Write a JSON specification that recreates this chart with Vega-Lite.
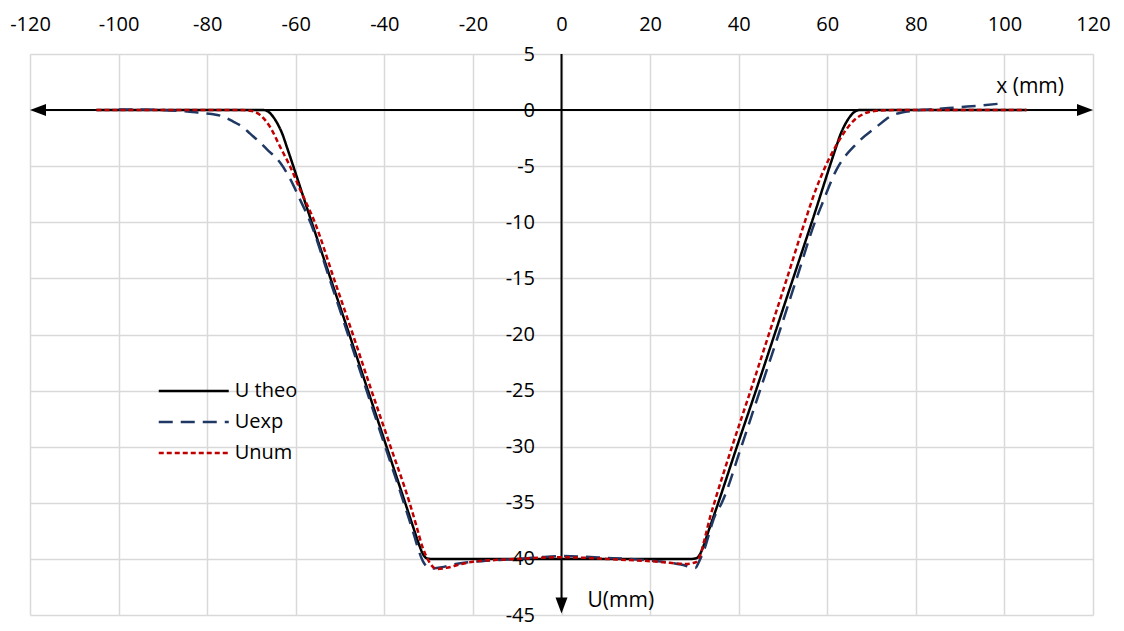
{
  "$schema": "https://vega.github.io/schema/vega-lite/v6.json",
  "width": 1063,
  "height": 561,
  "autosize": {"type": "none"},
  "padding": {"left": 30, "top": 54, "right": 31, "bottom": 16},
  "background": "white",
  "config": {
    "view": {"stroke": null},
    "font": "Open Sans",
    "axis": {
      "labelFont": "Open Sans",
      "labelFontSize": 20,
      "labelColor": "#000000",
      "domain": false,
      "ticks": false,
      "gridColor": "#d9d9d9",
      "gridWidth": 1.5,
      "title": null,
      "labelExpr": "replace(datum.label, '\u2212', '-')"
    },
    "legend": {
      "labelFont": "Open Sans",
      "labelFontSize": 20,
      "labelColor": "#000000"
    }
  },
  "datasets": {
    "curves": [
      {"s": "U theo", "x": -105, "y": 0},
      {"s": "U theo", "x": -67.2, "y": 0},
      {"s": "U theo", "x": -66, "y": -0.2},
      {"s": "U theo", "x": -65, "y": -0.65},
      {"s": "U theo", "x": -64, "y": -1.3},
      {"s": "U theo", "x": -63, "y": -2.15},
      {"s": "U theo", "x": -62, "y": -3.3},
      {"s": "U theo", "x": -56.4, "y": -10},
      {"s": "U theo", "x": -47.9, "y": -20},
      {"s": "U theo", "x": -39.5, "y": -30},
      {"s": "U theo", "x": -35.3, "y": -35},
      {"s": "U theo", "x": -33, "y": -37.75},
      {"s": "U theo", "x": -32.5, "y": -38.35},
      {"s": "U theo", "x": -32, "y": -38.9},
      {"s": "U theo", "x": -31.5, "y": -39.4},
      {"s": "U theo", "x": -31, "y": -39.75},
      {"s": "U theo", "x": -30.5, "y": -39.93},
      {"s": "U theo", "x": -29.5, "y": -40},
      {"s": "U theo", "x": 29.5, "y": -40},
      {"s": "U theo", "x": 30.5, "y": -39.93},
      {"s": "U theo", "x": 31, "y": -39.75},
      {"s": "U theo", "x": 31.5, "y": -39.4},
      {"s": "U theo", "x": 32, "y": -38.9},
      {"s": "U theo", "x": 32.5, "y": -38.35},
      {"s": "U theo", "x": 33, "y": -37.75},
      {"s": "U theo", "x": 35.4, "y": -35},
      {"s": "U theo", "x": 39.6, "y": -30},
      {"s": "U theo", "x": 43.9, "y": -25},
      {"s": "U theo", "x": 48.1, "y": -20},
      {"s": "U theo", "x": 52.3, "y": -15},
      {"s": "U theo", "x": 56.5, "y": -10},
      {"s": "U theo", "x": 62, "y": -3.3},
      {"s": "U theo", "x": 63, "y": -2.15},
      {"s": "U theo", "x": 64, "y": -1.3},
      {"s": "U theo", "x": 65, "y": -0.65},
      {"s": "U theo", "x": 66, "y": -0.2},
      {"s": "U theo", "x": 67.2, "y": 0},
      {"s": "U theo", "x": 105, "y": 0},

      {"s": "Uexp", "x": -100, "y": 0.05},
      {"s": "Uexp", "x": -95, "y": 0.05},
      {"s": "Uexp", "x": -90, "y": 0},
      {"s": "Uexp", "x": -85, "y": -0.1},
      {"s": "Uexp", "x": -81.6, "y": -0.24},
      {"s": "Uexp", "x": -79, "y": -0.35},
      {"s": "Uexp", "x": -77, "y": -0.5},
      {"s": "Uexp", "x": -74.2, "y": -1.0},
      {"s": "Uexp", "x": -72, "y": -1.5},
      {"s": "Uexp", "x": -70.3, "y": -2.1},
      {"s": "Uexp", "x": -68.3, "y": -2.8},
      {"s": "Uexp", "x": -66.5, "y": -3.5},
      {"s": "Uexp", "x": -63.5, "y": -4.7},
      {"s": "Uexp", "x": -61.3, "y": -6.1},
      {"s": "Uexp", "x": -59, "y": -8.0},
      {"s": "Uexp", "x": -56.7, "y": -10},
      {"s": "Uexp", "x": -52.4, "y": -15},
      {"s": "Uexp", "x": -48.2, "y": -20},
      {"s": "Uexp", "x": -44, "y": -25},
      {"s": "Uexp", "x": -39.8, "y": -30},
      {"s": "Uexp", "x": -35.6, "y": -35},
      {"s": "Uexp", "x": -33.2, "y": -38},
      {"s": "Uexp", "x": -32.2, "y": -39.3},
      {"s": "Uexp", "x": -31.3, "y": -40.2},
      {"s": "Uexp", "x": -30.3, "y": -40.7},
      {"s": "Uexp", "x": -29, "y": -40.85},
      {"s": "Uexp", "x": -27, "y": -40.75},
      {"s": "Uexp", "x": -25, "y": -40.55},
      {"s": "Uexp", "x": -22, "y": -40.35},
      {"s": "Uexp", "x": -18, "y": -40.2},
      {"s": "Uexp", "x": -14, "y": -40.1},
      {"s": "Uexp", "x": -10, "y": -40.0},
      {"s": "Uexp", "x": -5, "y": -39.85},
      {"s": "Uexp", "x": 0, "y": -39.75},
      {"s": "Uexp", "x": 5, "y": -39.8},
      {"s": "Uexp", "x": 10, "y": -39.9},
      {"s": "Uexp", "x": 15, "y": -40.0},
      {"s": "Uexp", "x": 20, "y": -40.15},
      {"s": "Uexp", "x": 24, "y": -40.3},
      {"s": "Uexp", "x": 27, "y": -40.5},
      {"s": "Uexp", "x": 30.2, "y": -40.8},
      {"s": "Uexp", "x": 31.1, "y": -40.2},
      {"s": "Uexp", "x": 32.1, "y": -39.3},
      {"s": "Uexp", "x": 34.6, "y": -36.2},
      {"s": "Uexp", "x": 36.2, "y": -35},
      {"s": "Uexp", "x": 40.6, "y": -30},
      {"s": "Uexp", "x": 44.8, "y": -25},
      {"s": "Uexp", "x": 49.0, "y": -20},
      {"s": "Uexp", "x": 53.1, "y": -15},
      {"s": "Uexp", "x": 57.2, "y": -10},
      {"s": "Uexp", "x": 58.6, "y": -8.6},
      {"s": "Uexp", "x": 62.1, "y": -5.3},
      {"s": "Uexp", "x": 66.6, "y": -3.0},
      {"s": "Uexp", "x": 71.1, "y": -1.5},
      {"s": "Uexp", "x": 74.8, "y": -0.45},
      {"s": "Uexp", "x": 79.4, "y": -0.06},
      {"s": "Uexp", "x": 85, "y": 0.1},
      {"s": "Uexp", "x": 89.2, "y": 0.24},
      {"s": "Uexp", "x": 95, "y": 0.42},
      {"s": "Uexp", "x": 100, "y": 0.62},

      {"s": "Unum", "x": -105, "y": 0},
      {"s": "Unum", "x": -72, "y": 0},
      {"s": "Unum", "x": -70.3, "y": -0.05},
      {"s": "Unum", "x": -68, "y": -0.45},
      {"s": "Unum", "x": -65.8, "y": -1.5},
      {"s": "Unum", "x": -63.5, "y": -3.3},
      {"s": "Unum", "x": -61.3, "y": -5.0},
      {"s": "Unum", "x": -59, "y": -7.1},
      {"s": "Unum", "x": -55.7, "y": -10},
      {"s": "Unum", "x": -51.4, "y": -15},
      {"s": "Unum", "x": -47.1, "y": -20},
      {"s": "Unum", "x": -42.9, "y": -25},
      {"s": "Unum", "x": -38.6, "y": -30},
      {"s": "Unum", "x": -34.3, "y": -35},
      {"s": "Unum", "x": -32.8, "y": -37},
      {"s": "Unum", "x": -31.5, "y": -38.8},
      {"s": "Unum", "x": -30.5, "y": -39.8},
      {"s": "Unum", "x": -29.5, "y": -40.5},
      {"s": "Unum", "x": -28.2, "y": -40.9},
      {"s": "Unum", "x": -26, "y": -40.8},
      {"s": "Unum", "x": -23, "y": -40.5},
      {"s": "Unum", "x": -20, "y": -40.25},
      {"s": "Unum", "x": -15, "y": -40.1},
      {"s": "Unum", "x": -10, "y": -40.0},
      {"s": "Unum", "x": -5, "y": -39.9},
      {"s": "Unum", "x": 0, "y": -39.85},
      {"s": "Unum", "x": 5, "y": -39.9},
      {"s": "Unum", "x": 10, "y": -40.0},
      {"s": "Unum", "x": 15, "y": -40.1},
      {"s": "Unum", "x": 20, "y": -40.2},
      {"s": "Unum", "x": 24.5, "y": -40.35},
      {"s": "Unum", "x": 28, "y": -40.45},
      {"s": "Unum", "x": 30.3, "y": -40.3},
      {"s": "Unum", "x": 31.3, "y": -39.7},
      {"s": "Unum", "x": 32.4, "y": -38.1},
      {"s": "Unum", "x": 33.6, "y": -36.2},
      {"s": "Unum", "x": 34.5, "y": -35},
      {"s": "Unum", "x": 38.5, "y": -30},
      {"s": "Unum", "x": 42.7, "y": -25},
      {"s": "Unum", "x": 46.8, "y": -20},
      {"s": "Unum", "x": 50.9, "y": -15},
      {"s": "Unum", "x": 54.9, "y": -10},
      {"s": "Unum", "x": 57.5, "y": -7},
      {"s": "Unum", "x": 59.6, "y": -5},
      {"s": "Unum", "x": 61.8, "y": -3.3},
      {"s": "Unum", "x": 63.8, "y": -2},
      {"s": "Unum", "x": 65.8, "y": -1},
      {"s": "Unum", "x": 68.1, "y": -0.36},
      {"s": "Unum", "x": 71.1, "y": -0.06},
      {"s": "Unum", "x": 75, "y": 0},
      {"s": "Unum", "x": 105, "y": 0}
    ],
    "axisLines": [
      {"x": -119, "x2": 119, "y": 0, "y2": 0},
      {"x": 0, "x2": 0, "y": 5, "y2": -44.2}
    ],
    "arrows": [
      {"x": -118.19, "y": 0, "dir": "left"},
      {"x": 118.19, "y": 0, "dir": "right"},
      {"x": 0, "y": -44.16, "dir": "down"}
    ],
    "titles": [
      {"x": 105.8, "y": 1.52, "t": "x (mm)"},
      {"x": 13.4, "y": -44.32, "t": "U(mm)"}
    ]
  },
  "layer": [
    {
      "data": {"name": "axisLines"},
      "mark": {"type": "rule", "color": "#000000", "strokeWidth": 2},
      "encoding": {
        "x": {"field": "x", "type": "quantitative",
          "scale": {"domain": [-120, 120], "nice": false, "zero": false},
          "axis": {"orient": "top", "values": [-120, -100, -80, -60, -40, -20, 0, 20, 40, 60, 80, 100, 120], "labelPadding": 24, "labelBaseline": "alphabetic", "labelFlush": false, "labelOverlap": false, "grid": true}},
        "x2": {"field": "x2"},
        "y": {"field": "y", "type": "quantitative",
          "scale": {"domain": [-45, 5], "nice": false, "zero": false},
          "axis": {"orient": "left", "offset": -531.5, "values": [-45, -40, -35, -30, -25, -20, -15, -10, -5, 0, 5], "labelPadding": 27, "labelOverlap": false, "labelFlush": false, "grid": true}},
        "y2": {"field": "y2"}
      }
    },
    {
      "data": {"name": "curves"},
      "mark": {"type": "line", "strokeWidth": 2.5, "interpolate": "monotone"},
      "encoding": {
        "x": {"field": "x", "type": "quantitative"},
        "y": {"field": "y", "type": "quantitative"},
        "color": {"field": "s", "type": "nominal",
          "scale": {"domain": ["U theo", "Uexp", "Unum"], "range": ["#000000", "#1f3864", "#c00000"]},
          "legend": {"orient": "none", "legendX": 153.75, "legendY": 327, "title": null, "padding": 0, "symbolType": "M-5,0H5", "symbolSize": 196, "symbolStrokeWidth": 2.5, "labelOffset": 31, "rowPadding": 11}},
        "strokeDash": {"field": "s", "type": "nominal",
          "scale": {"domain": ["U theo", "Uexp", "Unum"], "range": [[1, 0], [14, 8], [5, 3]]},
          "legend": {"orient": "none", "legendX": 153.75, "legendY": 327, "title": null, "padding": 0, "symbolType": "M-5,0H5", "symbolSize": 196, "symbolStrokeWidth": 2.5, "labelOffset": 31, "rowPadding": 11}},
        "order": {"field": "x", "type": "quantitative"}
      }
    },
    {
      "data": {"name": "arrows"},
      "mark": {"type": "point", "filled": true, "opacity": 1, "color": "#000000", "strokeWidth": 0},
      "encoding": {
        "x": {"field": "x", "type": "quantitative"},
        "y": {"field": "y", "type": "quantitative"},
        "shape": {"field": "dir", "type": "nominal", "legend": null,
          "scale": {"domain": ["left", "right", "down"], "range": ["M-1,0L1,-0.75L1,0.75Z", "M1,0L-1,-0.75L-1,0.75Z", "M0,1L-0.75,-1L0.75,-1Z"]}},
        "size": {"value": 256}
      }
    },
    {
      "data": {"name": "titles"},
      "mark": {"type": "text", "font": "Open Sans", "fontSize": 21, "align": "center", "baseline": "alphabetic", "color": "#000000"},
      "encoding": {
        "x": {"field": "x", "type": "quantitative"},
        "y": {"field": "y", "type": "quantitative"},
        "text": {"field": "t"}
      }
    }
  ]
}
